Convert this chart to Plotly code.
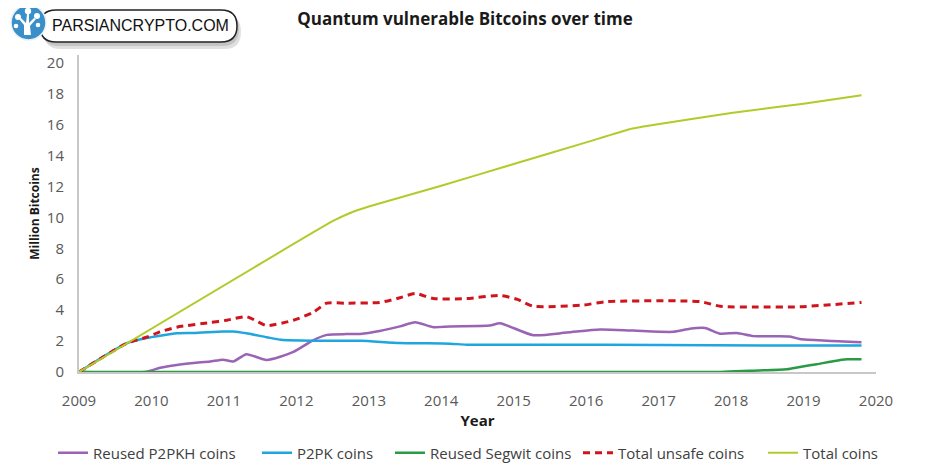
import plotly.graph_objects as go

# ---------------- data ----------------
p2pkh_x = [2009, 2009.91, 2010.12, 2010.35, 2010.58, 2010.81, 2010.99, 2011.13, 2011.31, 2011.59,
           2011.96, 2012.23, 2012.42, 2012.69, 2012.88, 2013.15, 2013.43, 2013.64, 2013.89, 2014.12,
           2014.67, 2014.81, 2015.27, 2015.73, 2016.19, 2016.65, 2017.20, 2017.43, 2017.64, 2017.85,
           2018.08, 2018.31, 2018.81, 2018.95, 2019.32, 2019.80]
p2pkh_y = [0, 0, 0.27, 0.45, 0.58, 0.68, 0.80, 0.68, 1.15, 0.78,
           1.30, 2.05, 2.40, 2.45, 2.46, 2.65, 2.95, 3.22, 2.90, 2.95,
           3.00, 3.15, 2.38, 2.55, 2.75, 2.68, 2.60, 2.80, 2.85, 2.48,
           2.52, 2.32, 2.30, 2.13, 2.02, 1.93]

p2pk_x = [2009, 2009.66, 2009.93, 2010.12, 2010.35, 2010.58, 2010.99, 2011.13, 2011.31, 2011.59,
          2011.79, 2012.23, 2012.88, 2013.43, 2014.12, 2014.35, 2015.5, 2017.0, 2018.5, 2019.80]
p2pk_y = [0, 1.86, 2.20, 2.35, 2.50, 2.52, 2.62, 2.62, 2.50, 2.25,
          2.08, 2.02, 2.02, 1.88, 1.83, 1.77, 1.77, 1.75, 1.72, 1.72]

segwit_x = [2009, 2017.85, 2018.26, 2018.77, 2018.95, 2019.18, 2019.41, 2019.60, 2019.80]
segwit_y = [0, 0, 0.08, 0.18, 0.33, 0.50, 0.70, 0.82, 0.82]

unsafe_x = [2009, 2009.66, 2009.93, 2010.12, 2010.35, 2010.81, 2011.04, 2011.31, 2011.45, 2011.59,
            2011.96, 2012.23, 2012.42, 2012.69, 2013.15, 2013.43, 2013.64, 2013.89, 2014.35, 2014.81,
            2015.05, 2015.27, 2015.96, 2016.28, 2017.57, 2017.85, 2018.35, 2018.95, 2019.80]
unsafe_y = [0, 1.86, 2.25, 2.60, 2.90, 3.20, 3.35, 3.58, 3.30, 3.00,
            3.35, 3.85, 4.45, 4.45, 4.50, 4.80, 5.08, 4.75, 4.75, 4.95,
            4.70, 4.25, 4.33, 4.55, 4.55, 4.25, 4.20, 4.22, 4.50]

total_x = [2009, 2012.5, 2012.75, 2013.0, 2014.0, 2015.0, 2016.0, 2016.6, 2016.9, 2018.0, 2019.0, 2019.80]
total_y = [0, 9.75, 10.30, 10.70, 12.05, 13.45, 14.85, 15.70, 15.95, 16.75, 17.35, 17.90]

year_ticks = [2009, 2010, 2011, 2012, 2013, 2014, 2015, 2016, 2017, 2018, 2019, 2020]
value_ticks = [0, 2, 4, 6, 8, 10, 12, 14, 16, 18, 20]

series_names = ["Reused P2PKH coins", "P2PK coins", "Reused Segwit coins",
                "Total unsafe coins", "Total coins"]

# ---------------- layout geometry ----------------
# the page adds an 8px body margin, so the figure is 8px smaller and all
# positions measured on the reference are shifted by 8px
OFF = 8
W, H = 932 - OFF, 466 - OFF
L, R, T, B = 79 - OFF, 56, 55 - OFF, 94
PW, PH = W - L - R, H - T - B


def px2x(px):
    return (px - OFF - L) / PW


def py2y(py):
    return (H - B - (py - OFF)) / PH


FONT = "Open Sans"
TICK_COLOR = "#595959"

fig = go.Figure()

styles = [
    dict(color="#9b63b3", width=2.5),
    dict(color="#1fa6df", width=2.5),
    dict(color="#2a9a45", width=2.5),
    dict(color="#d0141d", width=3, dash="7px,5px"),
    dict(color="#b2cb2a", width=2),
]
xs = [p2pkh_x, p2pk_x, segwit_x, unsafe_x, total_x]
ys = [p2pkh_y, p2pk_y, segwit_y, unsafe_y, total_y]
legend_ids = ["legend", "legend2", "legend3", "legend4", "legend5"]
legend_text_px = [93, 297, 430, 618, 803]

for i in range(5):
    fig.add_trace(go.Scatter(
        x=xs[i], y=ys[i], mode="lines", name=series_names[i],
        line=dict(shape="spline", smoothing=0.6 if i != 4 else 0.4, **styles[i]),
        legend=legend_ids[i], hoverinfo="skip",
    ))

legend_common = dict(
    orientation="h", xref="container", yref="container",
    xanchor="left", yanchor="middle", bgcolor="rgba(0,0,0,0)",
    font=dict(family=FONT, size=15, color="#404040"),
    itemwidth=30, tracegroupgap=0,
)
legend_layout = {}
for lid, tx in zip(legend_ids, legend_text_px):
    legend_layout[lid] = dict(x=(tx - OFF - 40) / W, y=(466 - 453) / H, **legend_common)

# ---------------- watermark logo ----------------
rx, ry = 16 / PW, 16 / PH


def pill(xa, xb, ya_top, ya_bot):
    ymid = (ya_top + ya_bot) / 2
    return (f"M{xa+rx},{ya_top} L{xb-rx},{ya_top} Q{xb},{ya_top} {xb},{ymid} "
            f"Q{xb},{ya_bot} {xb-rx},{ya_bot} L{xa+rx},{ya_bot} Q{xa},{ya_bot} {xa},{ymid} "
            f"Q{xa},{ya_top} {xa+rx},{ya_top} Z")


shapes = [
    dict(type="path", xref="paper", yref="paper",
         path=pill(px2x(44), px2x(241), py2y(15), py2y(49)),
         fillcolor="rgba(0,0,0,0.12)", line=dict(width=0)),
    dict(type="path", xref="paper", yref="paper",
         path=pill(px2x(42), px2x(239), py2y(12), py2y(46)),
         fillcolor="rgba(0,0,0,0.12)", line=dict(width=0)),
    dict(type="path", xref="paper", yref="paper", path=pill(px2x(40), px2x(237), py2y(10), py2y(42)),
         fillcolor="white", line=dict(color="#222222", width=1.5)),
    dict(type="circle", xref="paper", yref="paper",
         x0=px2x(11), x1=px2x(46), y0=py2y(40), y1=py2y(5),
         fillcolor="#3b8fc9", line=dict(color="#e8f1f8", width=1.5)),
    # simple white tree glyph inside the badge
    dict(type="path", xref="paper", yref="paper",
         path=(f"M{px2x(24)},{py2y(35)} L{px2x(24)},{py2y(25)} L{px2x(19)},{py2y(19)} "
               f"L{px2x(21)},{py2y(18)} L{px2x(26)},{py2y(23)} L{px2x(27)},{py2y(14)} "
               f"L{px2x(29)},{py2y(14)} L{px2x(29)},{py2y(23)} L{px2x(34)},{py2y(18)} "
               f"L{px2x(36)},{py2y(19)} L{px2x(30)},{py2y(26)} L{px2x(31)},{py2y(35)} Z"),
         fillcolor="white", line=dict(width=0)),
]
for cx, cy, r in [(18, 17, 3), (28, 11, 3.2), (37, 16, 3), (16, 26, 2.3), (38, 25, 2.3)]:
    shapes.append(dict(type="circle", xref="paper", yref="paper",
                       x0=px2x(cx - r), x1=px2x(cx + r), y0=py2y(cy + r), y1=py2y(cy - r),
                       fillcolor="white", line=dict(width=0)))

annotations = [
    dict(text="PARSIANCRYPTO.COM", xref="paper", yref="paper",
         x=px2x(140), y=py2y(26), xanchor="center", yanchor="middle", showarrow=False,
         font=dict(family="Liberation Sans", size=16, weight=500, color="#111111")),
]

fig.update_layout(
    width=W, height=H,
    margin=dict(l=L, r=R, t=T, b=B, autoexpand=False),
    paper_bgcolor="white", plot_bgcolor="white",
    title=dict(text="Quantum vulnerable Bitcoins over time",
               xref="container", yref="container", x=(465 - OFF) / W, y=1 - (19 - OFF) / H,
               xanchor="center", yanchor="middle",
               font=dict(family=FONT, size=17, weight="bold", color="#1a1a1a")),
    xaxis=dict(range=[2009, 2020], tickvals=year_ticks, ticktext=[str(v) for v in year_ticks],
               showgrid=False, zeroline=False, showline=True, linecolor="#c8c8c8", linewidth=2,
               ticks="", ticklabelstandoff=14, layer="below traces",
               tickfont=dict(family=FONT, size=15, color=TICK_COLOR),
               title=dict(text="Year", standoff=6,
                          font=dict(family=FONT, size=15, weight="bold", color="#1a1a1a"))),
    yaxis=dict(range=[0, 20.5], tickvals=value_ticks, ticktext=[str(v) for v in value_ticks],
               showgrid=False, zeroline=False, showline=True, linecolor="#c8c8c8", linewidth=2,
               ticks="", ticklabelstandoff=10, layer="below traces",
               tickfont=dict(family=FONT, size=15, color=TICK_COLOR),
               title=dict(text="Million Bitcoins", standoff=5,
                          font=dict(family=FONT, size=12, weight="bold", color="#1a1a1a"))),
    shapes=shapes,
    annotations=annotations,
    showlegend=True,
    **legend_layout,
)

fig.write_html("out.html")
